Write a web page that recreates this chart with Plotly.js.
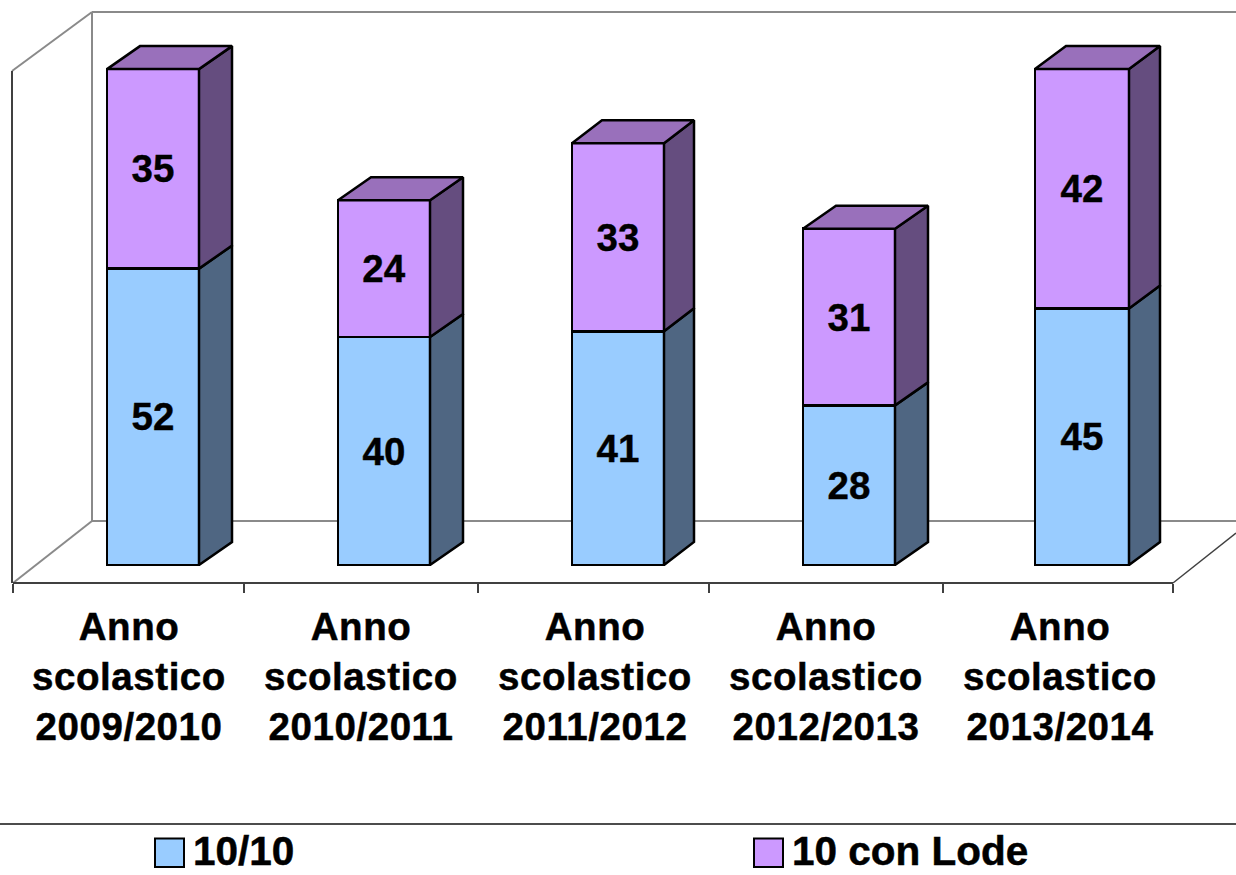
<!DOCTYPE html>
<html><head><meta charset="utf-8">
<script src="https://cdn.plot.ly/plotly-3.0.1.min.js"></script>
<style>html,body{margin:0;padding:0;background:#fff}#c{width:1236px;height:875px}
.xtick text{letter-spacing:.55px;stroke:#000;stroke-width:.5px}
.annotation-text{stroke:#000;stroke-width:.5px}
.bartext text,text.bartext{stroke:#000;stroke-width:.4px}</style>
</head><body><div id="c"></div>
<script>
const categories = ["Anno<br>scolastico<br>2009/2010","Anno<br>scolastico<br>2010/2011","Anno<br>scolastico<br>2011/2012","Anno<br>scolastico<br>2012/2013","Anno<br>scolastico<br>2013/2014"];
const seriesNames = ["10/10","10 con Lode"];
const valuesTen = [52,40,41,28,45];
const valuesLode = [35,24,33,31,42];

const W=1236,H=875,plotBottom=583;
const slot=232, originPx=129, zeroPy=565, unitPy=5.7;
const xd=px=>(px-originPx)/slot, yd=py=>(zeroPy-py)/unitPy;
const xp=px=>px/W, yp=py=>1-py/plotBottom;
const barCentrePx=[153,384,618,849,1082], barWidthPx=[92,92,92,92,94], depthPx=[33,33,30,33,31];
const labelCentrePx=[129,361,595,826,1060], tickPx=[13,244,478,709,943,1173];
const depthX=depthPx.map(d=>d/slot), depthY=23/unitPy;
const idx=categories.map((_,i)=>i);
const barX=barCentrePx.map(xd), barW=barWidthPx.map(w=>w/slot);
const FONT="Liberation Sans, Arial, sans-serif";
const BLACK="#000";

function bar(name,vals,color){return {type:"bar",name,x:barX,y:vals,width:barW,
  marker:{color,line:{color:BLACK,width:2.5}},text:vals.map(String),textposition:"inside",
  insidetextanchor:"middle",textangle:0,constraintext:"none",
  textfont:{family:FONT,size:38.5,color:BLACK,weight:700},showlegend:false,hoverinfo:"y+name"};}
function poly(xs,ys,color){return {type:"scatter",mode:"lines",x:xs,y:ys,fill:"toself",fillcolor:color,
  line:{color:BLACK,width:2.5},showlegend:false,hoverinfo:"skip"};}
function sidePoly(base,vals,color){const xs=[],ys=[];
  idx.forEach(i=>{const r=barX[i]+barW[i]/2,b=base[i],t=b+vals[i],d=depthX[i];
    xs.push(r,r+d,r+d,r,r,null);ys.push(b,b+depthY,t+depthY,t,b,null);});
  return poly(xs,ys,color);}
function topPoly(tops,color){const xs=[],ys=[];
  idx.forEach(i=>{const l=barX[i]-barW[i]/2,r=barX[i]+barW[i]/2,t=tops[i],d=depthX[i];
    xs.push(l,l+d,r+d,r,l,null);ys.push(t,t+depthY,t+depthY,t,t,null);});
  return poly(xs,ys,color);}

const zeros=idx.map(()=>0), totals=idx.map(i=>valuesTen[i]+valuesLode[i]);
const data=[bar(seriesNames[0],valuesTen,"#99CCFF"),bar(seriesNames[1],valuesLode,"#CC99FF"),
  sidePoly(zeros,valuesTen,"#4F6682"),sidePoly(valuesTen,valuesLode,"#654D7F"),topPoly(totals,"#9970BB")];

function seg(x0,y0,x1,y1,color,width,layer){return {type:"line",xref:"paper",yref:"paper",x0:xp(x0),y0:yp(y0),x1:xp(x1),y1:yp(y1),
  line:{color,width},layer:layer||"below"};}
function swatch(x0,color){return {type:"rect",xref:"paper",yref:"paper",x0:xp(x0),x1:xp(x0+29),y0:yp(838.5),y1:yp(867),
  fillcolor:color,line:{color:BLACK,width:2},layer:"above"};}
const GREY="#8a8a8a",DARK="#404040";
const shapes=[
  seg(92,12,1236,12,GREY,2), seg(92,12,92,521,GREY,2), seg(92,521,1236,521,GREY,2),
  seg(12,71,92,12,GREY,2), seg(13,583,92,521,GREY,2), seg(12,71,12,583,DARK,2),
  seg(13,583,1173,583,DARK,2), seg(1173,583,1236,533,DARK,1.5),
  seg(0,824,1236,824,"#111",1.5,"above"),
  swatch(155,"#99CCFF"),swatch(754,"#CC99FF")];
function legendText(x,t){return {xref:"paper",yref:"paper",x:xp(x),y:yp(851),xanchor:"left",yanchor:"middle",showarrow:false,
  text:t,font:{family:FONT,size:40.5,color:BLACK,weight:700}};}

const layout={width:W,height:H,margin:{l:0,r:0,t:0,b:H-plotBottom,pad:0},paper_bgcolor:"#fff",plot_bgcolor:"rgba(0,0,0,0)",
  barmode:"stack",showlegend:false,hovermode:"closest",
  xaxis:{type:"linear",range:[xd(0),xd(W)],tickmode:"array",tickvals:labelCentrePx.map(xd),ticktext:categories,ticks:"outside",ticklen:0,
    tickfont:{family:FONT,size:38.5,color:BLACK,weight:700},tickangle:0,ticklabelstandoff:10,showgrid:false,zeroline:false,showline:false,
    minor:{tickmode:"array",tickvals:tickPx.map(xd),ticks:"outside",ticklen:9,tickwidth:2,tickcolor:DARK,showgrid:false}},
  yaxis:{range:[yd(plotBottom),yd(0)],visible:false,showgrid:false,zeroline:false},
  shapes,annotations:[legendText(191,seriesNames[0]),legendText(790,seriesNames[1])]};
Plotly.newPlot("c",data,layout,{displayModeBar:false,staticPlot:true});
</script></body></html>
